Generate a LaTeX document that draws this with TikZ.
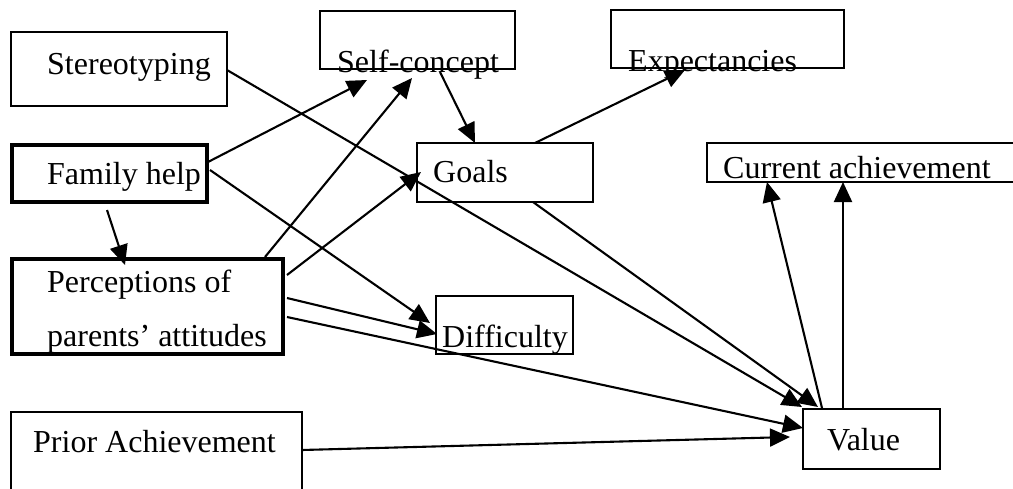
\documentclass[tikz,border=0pt]{standalone}
\usepackage{fontspec}
\setmainfont{Liberation Serif}
\usetikzlibrary{arrows.meta,calc}
\begin{document}
\begin{tikzpicture}[x=1pt,y=-1pt,
  box/.style={draw,line width=2pt,anchor=north west,inner sep=0pt,outer sep=0pt},
  thickbox/.style={box,line width=4.8pt},
  lbl/.style={anchor=base west,inner sep=0pt,font=\fontsize{32}{38}\selectfont},
  link/.style={line width=2.1pt,-{Triangle[length=20pt,width=18pt]}}]
\clip (0,0) rectangle (1013,488);
\fill[white] (0,0) rectangle (1013,488);

% boxes
\node[box,minimum width=216pt,minimum height=74pt] (stereo) at (11,32) {};
\node[box,minimum width=195pt,minimum height=58pt] (selfc) at (320,11) {};
\node[box,minimum width=233pt,minimum height=58pt] (expect) at (611,10) {};
\node[thickbox,minimum width=195pt,minimum height=57pt] (fam) at (12,145) {};
\node[box,minimum width=176pt,minimum height=59pt] (goals) at (417,143) {};
\node[box,minimum width=330pt,minimum height=39pt] (curr) at (707,143) {};
\node[thickbox,minimum width=271pt,minimum height=95pt] (percep) at (12,259) {};
\node[box,minimum width=137pt,minimum height=58pt] (diff) at (436,296) {};
\node[box,minimum width=291pt,minimum height=100pt] (prior) at (11,412) {};
\node[box,minimum width=137pt,minimum height=60pt] (value) at (803,409) {};

% labels
\node[lbl] (tstereo) at (47,74) {Stereotyping};
\node[lbl] (tselfc) at (337,72) {Self-concept};
\node[lbl] (texpect) at (628,71) {Expectancies};
\node[lbl] (tfam) at (47,184) {Family help};
\node[lbl] (tgoals) at (433,182) {Goals};
\node[lbl] (tcurr) at (723,178) {Current achievement};
\node[lbl] (tperc1) at (47,292) {Perceptions of};
\node[lbl] (tperc2) at (47,346) {parents’ attitudes};
\node[lbl] (tdiff) at (442,347) {Difficulty};
\node[lbl] (tprior) at (33,452) {Prior Achievement};
\node[lbl] (tvalue) at (827,450) {Value};

% connectors
\draw[link] ($(stereo.north west)+(216,38)$) -- ($(value.north west)+(-1,-2)$);
\draw[link] ($(goals.north west)+(116,59)$) -- ($(value.north west)+(15,-2)$);
\draw[link] ($(fam.north west)+(196,17)$) -- ($(selfc.north west)+(47,69)$);
\draw[link] ($(fam.north west)+(198,25)$) -- ($(diff.north west)+(-6,27)$);
\draw[link] ($(fam.north west)+(95,65)$) -- ($(percep.north west)+(113,6)$);
\draw[link] ($(percep.north west)+(253,-2)$) -- ($(selfc.north west)+(92,67)$);
\draw[link] ($(percep.north west)+(275,16)$) -- ($(goals.north west)+(4,29)$);
\draw[link] ($(percep.north west)+(275,39)$) -- ($(diff.north west)+(1,38)$);
\draw[link] ($(percep.north west)+(275,58)$) -- ($(value.north west)+(0,19)$);
\draw[link] ($(prior.north west)+(291,38)$) -- ($(value.north west)+(-13,28)$);
\draw[link] ($(selfc.north west)+(120,61)$) -- ($(goals.north west)+(58,0)$);
\draw[link] ($(goals.north west)+(118,0)$) -- ($(expect.north west)+(74,60)$);
\draw[link] ($(value.north west)+(19,-1)$) -- ($(curr.north west)+(60,39)$);
\draw[link] ($(value.north west)+(40,-1)$) -- ($(curr.north west)+(136,39)$);
\end{tikzpicture}
\end{document}
